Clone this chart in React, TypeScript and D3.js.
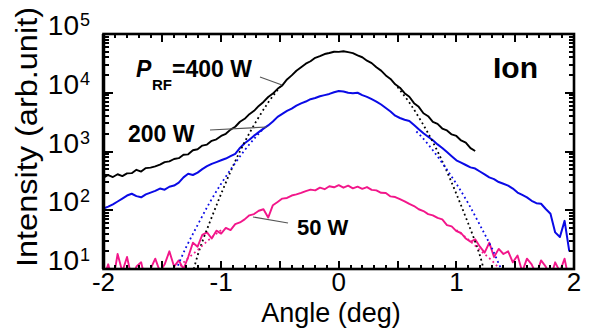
import React from "react";
import * as d3 from "d3";

const WIDTH = 589;
const HEIGHT = 329;
const PLOT = { left: 103.5, right: 574, top: 34, bottom: 269 };
const FONT = "'Liberation Sans', Arial, Helvetica, sans-serif";

// sampling of the measured profiles (deg)
const angleStart = -2;
const angleStep = 0.04;

// P_RF = 400 W (black), from -2.00 to 1.16 deg
const intensity400W = [
  360, 398, 368, 410, 382, 425, 428, 488, 455, 522, 532, 560, 598, 660, 680, 745,
  770, 880, 895, 1050, 1090, 1260, 1310, 1520, 1610, 1840,
  2000, 2360, 2640, 3210, 3600, 4320, 4930, 5970, 6980, 8470, 9680, 11650, 13350,
  16850, 19750, 23650, 27250, 31300, 34400, 39300, 41900, 45600, 47500, 49900, 49700,
  50900, 49100, 47200, 43300, 40200, 35100, 31900, 27100, 23800, 19700, 17200, 13900,
  12200, 9850, 8550, 6650, 5750, 4470, 3990, 3190, 2950, 2460, 2280, 1950, 1840, 1540,
  1420, 1140, 1020,
];

// P_RF = 200 W (blue), from -2.00 to 1.96 deg
const intensity200W = [
  107, 115, 126, 141, 158, 178, 191, 174, 166, 186, 200, 214, 234, 224, 251, 263,
  295, 363, 417, 398, 437, 501, 562, 617, 661, 708,
  759, 832, 912, 1150, 1380, 1585, 1860, 2140, 2450, 2780, 3240, 3890, 4370, 4900,
  5370, 6030, 6610, 7080, 7760, 8130, 8710, 9120, 9550, 10200, 10700,
  10500, 10000, 9770, 10000, 9120, 8510, 7760, 7080, 6310, 5500, 4790, 4070, 3720,
  3470, 3310, 2820, 2400, 2040, 1780, 1550, 1320, 1150, 977, 832, 708, 646, 589, 537,
  513, 457, 407, 363, 339, 302, 282, 263, 234, 200, 182, 166, 145, 132, 129, 105, 87,
  42, 35, 66, 20,
];

// P_RF = 50 W (pink), from -2.00 to 1.96 deg
const intensity50W = [
  7, 12, 6, 18, 9, 16, 7, 11, 13, 6, 10, 15, 9, 12, 20, 11, 14, 10, 16, 28, 24, 38,
  42, 33, 45, 40,
  50, 46, 58, 62, 70, 82, 86, 98, 104, 75, 122, 138, 158, 162, 178, 186, 198, 212,
  224, 218, 242, 228, 256, 246, 268,
  242, 262, 236, 252, 232, 248, 222, 218, 198, 197, 172, 168, 155, 142, 128, 118, 104,
  97, 86, 82, 74, 70, 56, 53, 44, 41, 33, 29, 32, 24, 19, 28, 16, 22, 18, 20, 13, 17,
  9, 15, 12, 8, 14, 11, 7, 13, 9, 15, 6,
];

// Gaussian fit lines (dotted), visible parts: [angle, intensity]
const fit400WLeft: [number, number][] = [
  [-1.28, 6], [-1.24, 9], [-1.2, 17], [-1.15, 33], [-1.1, 60], [-1.0, 190],
  [-0.9, 560], [-0.8, 1450], [-0.7, 3300], [-0.6, 6800], [-0.5, 12500],
];
const fit400WRight: [number, number][] = [
  [0.5, 12500], [0.6, 6800], [0.7, 3300], [0.8, 1450], [0.9, 560], [1.0, 190],
  [1.1, 60], [1.15, 33], [1.2, 17], [1.24, 9], [1.28, 6],
];
const fit200WLeft: [number, number][] = [
  [-1.45, 6], [-1.4, 8.5], [-1.3, 23], [-1.2, 56], [-1.1, 132], [-1.0, 282],
  [-0.9, 560], [-0.8, 1050], [-0.7, 1820], [-0.64, 2450],
];
const fit200WRight: [number, number][] = [
  [0.66, 2190], [0.7, 1820], [0.8, 1050], [0.9, 560], [1.0, 282], [1.1, 132],
  [1.2, 56], [1.3, 23], [1.4, 8.5], [1.45, 6],
];
const fit50WLeft: [number, number][] = [
  [-1.55, 4.5], [-1.5, 5], [-1.4, 8.5], [-1.3, 14], [-1.2, 21], [-1.1, 32], [-1.0, 46],
];
const fit50WRight: [number, number][] = [
  [1.0, 46], [1.1, 32], [1.2, 21], [1.3, 14], [1.4, 8.5], [1.5, 5], [1.55, 4.5],
];

const xTickValues = [-2, -1, 0, 1, 2];
const xTickLabels = ["-2", "-1", "0", "1", "2"];
const yDecades = [1, 2, 3, 4, 5];

const COLOR_400 = "#000000";
const COLOR_200 = "#0a0ae6";
const COLOR_50 = "#f2168a";

export default function App() {
  const x = d3.scaleLinear().domain([-2, 2]).range([PLOT.left, PLOT.right]);
  const y = d3.scaleLog().domain([10, 1e5]).range([PLOT.bottom, PLOT.top]);

  const toPoints = (vals: number[]): [number, number][] =>
    vals.map((v, i) => [angleStart + i * angleStep, v]);

  const dataLine = d3
    .line<[number, number]>()
    .x((d) => x(d[0]))
    .y((d) => y(Math.max(d[1], 0.5)));
  const fitLine = d3
    .line<[number, number]>()
    .x((d) => x(d[0]))
    .y((d) => y(d[1]))
    .curve(d3.curveMonotoneX);

  const xMinor = d3.range(-20, 21).map((k) => k / 10);
  const yMinor: number[] = [];
  for (let d = 1; d < 5; d++) for (let k = 2; k <= 9; k++) yMinor.push(k * Math.pow(10, d));

  const ticks: JSX.Element[] = [];
  xMinor.forEach((v, i) => {
    const isMajor = Math.abs(v * 2 - Math.round(v * 2)) < 1e-6;
    const len = isMajor ? 8 : 4;
    const px = x(v);
    ticks.push(<line key={"xb" + i} x1={px} x2={px} y1={PLOT.bottom} y2={PLOT.bottom - len} />);
    ticks.push(<line key={"xt" + i} x1={px} x2={px} y1={PLOT.top} y2={PLOT.top + len} />);
  });
  yDecades.forEach((d, i) => {
    const py = y(Math.pow(10, d));
    ticks.push(<line key={"yl" + i} x1={PLOT.left} x2={PLOT.left + 9} y1={py} y2={py} />);
    ticks.push(<line key={"yr" + i} x1={PLOT.right} x2={PLOT.right - 9} y1={py} y2={py} />);
  });
  yMinor.forEach((v, i) => {
    const py = y(v);
    ticks.push(<line key={"yml" + i} x1={PLOT.left} x2={PLOT.left + 5} y1={py} y2={py} />);
    ticks.push(<line key={"ymr" + i} x1={PLOT.right} x2={PLOT.right - 5} y1={py} y2={py} />);
  });

  return (
    <svg
      width={WIDTH}
      height={HEIGHT}
      style={{ position: "absolute", left: 0, top: 0, background: "#fff" }}
      fontFamily={FONT}
    >
      <defs>
        <clipPath id="plotClip">
          <rect x={PLOT.left} y={PLOT.top} width={PLOT.right - PLOT.left} height={PLOT.bottom - PLOT.top} />
        </clipPath>
      </defs>
      <rect width={WIDTH} height={HEIGHT} fill="#fff" />

      <g clipPath="url(#plotClip)" fill="none" strokeLinejoin="round">
        <path d={dataLine(toPoints(intensity50W)) || ""} stroke={COLOR_50} strokeWidth={1.9} />
        <path d={dataLine(toPoints(intensity200W)) || ""} stroke={COLOR_200} strokeWidth={2} />
        <path d={dataLine(toPoints(intensity400W)) || ""} stroke={COLOR_400} strokeWidth={1.9} />
        {[fit400WLeft, fit400WRight].map((f, i) => (
          <path key={"f4" + i} d={fitLine(f) || ""} stroke={COLOR_400} strokeWidth={1.8} strokeDasharray="1.8,3" />
        ))}
        {[fit200WLeft, fit200WRight].map((f, i) => (
          <path key={"f2" + i} d={fitLine(f) || ""} stroke={COLOR_200} strokeWidth={1.8} strokeDasharray="1.8,3" />
        ))}
        {[fit50WLeft, fit50WRight].map((f, i) => (
          <path key={"f5" + i} d={fitLine(f) || ""} stroke={COLOR_50} strokeWidth={1.8} strokeDasharray="1.8,3" />
        ))}
      </g>

      {/* frame and ticks */}
      <g stroke="#000" strokeWidth={2} shapeRendering="crispEdges">{ticks}</g>
      <rect
        x={PLOT.left}
        y={PLOT.top}
        width={PLOT.right - PLOT.left}
        height={PLOT.bottom - PLOT.top}
        fill="none"
        stroke="#000"
        strokeWidth={2.6}
      />
      <line x1={PLOT.left} x2={PLOT.left} y1={PLOT.top} y2={PLOT.bottom} stroke="#000" strokeWidth={3.5} />

      {/* x tick labels */}
      {xTickValues.map((v, i) => (
        <text key={"xl" + i} x={x(v)} y={291} fontSize={26} textAnchor="middle" fill="#000">
          {xTickLabels[i]}
        </text>
      ))}
      {/* y tick labels */}
      {yDecades.map((d) => {
        const py = y(Math.pow(10, d)) + 1;
        return (
          <g key={"yl" + d}>
            <text x={79} y={py} fontSize={28} textAnchor="end" fill="#000">10</text>
            <text x={80} y={py - 9} fontSize={18} textAnchor="start" fill="#000">{String(d)}</text>
          </g>
        );
      })}

      {/* axis titles */}
      <text x={331} y={322} fontSize={27} textAnchor="middle" fill="#000">Angle (deg)</text>
      <text
        transform="translate(37,137) rotate(-90)"
        fontSize={30}
        textAnchor="middle"
        textLength={260}
        lengthAdjust="spacingAndGlyphs"
        fill="#000"
      >
        Intensity (arb.unit)
      </text>

      {/* annotations */}
      <g fontWeight="bold" fill="#000">
        <text x={136} y={77} fontSize={23} fontStyle="italic">P</text>
        <text x={152} y={90} fontSize={15}>RF</text>
        <text x={172} y={77} fontSize={23}>=400 W</text>
        <text x={128} y={142} fontSize={23}>200 W</text>
        <text x={297} y={235} fontSize={22}>50 W</text>
        <text x={493} y={78} fontSize={30}>Ion</text>
      </g>
      <g stroke="#555" strokeWidth={1.2}>
        <line x1={260} y1={77} x2={282} y2={85} />
        <line x1={210} y1={130} x2={267} y2={127} />
        <line x1={253} y1={217} x2={288} y2={223} />
      </g>
    </svg>
  );
}
